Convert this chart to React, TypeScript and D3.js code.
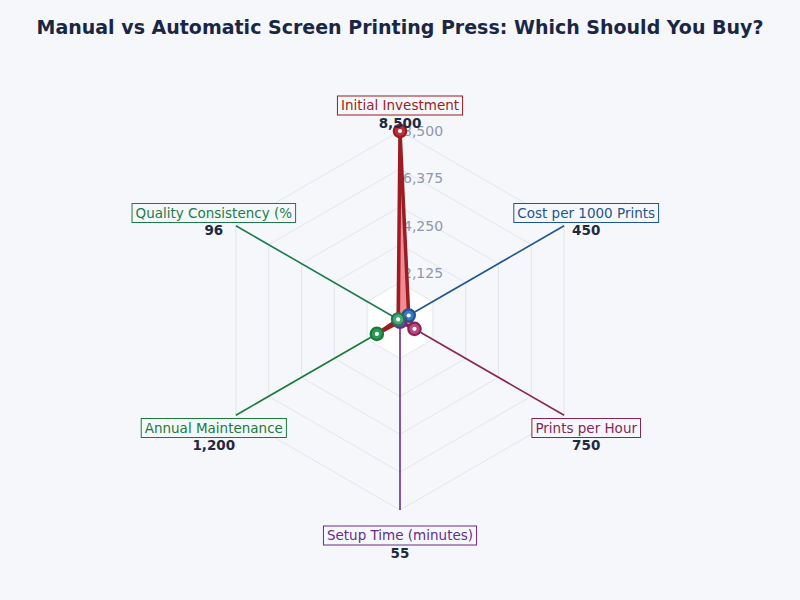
import React from "react";
import * as d3 from "d3";

const categories = [
  "Initial Investment",
  "Cost per 1000 Prints",
  "Prints per Hour",
  "Setup Time (minutes)",
  "Annual Maintenance",
  "Quality Consistency (%",
];
const values = [8500, 450, 750, 55, 1200, 96];
const valueLabels = ["8,500", "450", "750", "55", "1,200", "96"];
const tickValues = [2125, 4250, 6375, 8500];
const gridLevels = [0.2, 0.4, 0.6, 0.8, 1.0];
const axisColors = ["#9b1c22", "#1f5590", "#8a2456", "#6a2b8c", "#1b7a3a", "#1e7a4c"];
const markerFills = ["#c0303a", "#3a78c8", "#b84a80", "#8a3db0", "#2a9a55", "#4aa67a"];

const W = 800;
const H = 600;
const cx = 400;
const cy = 320.5;
const R = 189.5;
const font = "DejaVu Sans, sans-serif";

let ctx: CanvasRenderingContext2D | null = null;
function measure(text: string, size: number): number {
  if (!ctx && typeof document !== "undefined") {
    ctx = document.createElement("canvas").getContext("2d");
  }
  if (!ctx) return text.length * size * 0.55;
  ctx.font = `${size}px "DejaVu Sans"`;
  return ctx.measureText(text).width;
}

export default function App() {
  const maxV = 8500;
  const r = d3.scaleLinear().domain([0, maxV]).range([0, R]);
  const n = categories.length;
  const angle = (i: number) => (i * 2 * Math.PI) / n;
  const pt = (i: number, rad: number): [number, number] => [
    cx + rad * Math.sin(angle(i)),
    cy - rad * Math.cos(angle(i)),
  ];

  const radial = d3
    .lineRadial<number>()
    .angle((_, i) => angle(i))
    .radius((d) => r(d))
    .curve(d3.curveLinearClosed);

  const ringPath = (frac: number) =>
    d3
      .lineRadial<number>()
      .angle((_, i) => angle(i))
      .radius(() => R * frac)
      .curve(d3.curveLinearClosed)(d3.range(n)) || "";

  const fmt = d3.format(",");
  const labelSize = 13.5;

  return (
    <svg width={W} height={H} style={{ position: "absolute", left: 0, top: 0, background: "#f5f7fb" }}>
      <rect x={0} y={0} width={W} height={H} fill="#f5f7fb" />
      <text x={400} y={34} textAnchor="middle" fontFamily={font} fontWeight="bold" fontSize={19} fill="#1a2744">
        Manual vs Automatic Screen Printing Press: Which Should You Buy?
      </text>
      <g transform={`translate(${cx},${cy})`}>
        {gridLevels
          .slice()
          .reverse()
          .map((f, k) => (
            <path key={k} d={ringPath(f)} fill={f === 0.2 ? "#ffffff" : "none"} stroke="#dde1e8" strokeWidth={0.8} />
          ))}
      </g>
      {categories.map((c, i) => {
        const [x2, y2] = pt(i, R);
        return <line key={c} x1={cx} y1={cy} x2={x2} y2={y2} stroke={axisColors[i]} strokeWidth={1.6} />;
      })}
      {tickValues.map((t) => (
        <text
          key={t}
          x={cx + 3}
          y={cy - r(t)}
          dy="0.35em"
          fontFamily={font}
          fontSize={14}
          fill="#8f98aa"
        >
          {fmt(t)}
        </text>
      ))}
      <g transform={`translate(${cx},${cy})`}>
        <path d={radial(values) || ""} fill="#f07f86" fillOpacity={0.9} stroke="#9b1c22" strokeWidth={3.5} strokeLinejoin="round" />
      </g>
      {values.map((v, i) => {
        const [x, y] = pt(i, r(v));
        return (
          <g key={i}>
            <circle cx={x} cy={y} r={6.2} fill={markerFills[i]} stroke={axisColors[i]} strokeWidth={2.2} />
            <circle cx={x} cy={y} r={2.1} fill="#ffffff" />
          </g>
        );
      })}
      {categories.map((c, i) => {
        const [x, y] = pt(i, R + 25.5);
        const w = measure(c, labelSize) + 7;
        return (
          <g key={c}>
            <rect x={x - w / 2} y={y - 9.5} width={w} height={19} fill="#f5f7fb" fillOpacity={0.9} stroke={axisColors[i]} strokeWidth={1} />
            <text x={x} y={y} dy="0.35em" textAnchor="middle" fontFamily={font} fontSize={labelSize} fill={axisColors[i]}>
              {c}
            </text>
            <text x={x} y={y + 17.5} dy="0.35em" textAnchor="middle" fontFamily={font} fontSize={13.5} fontWeight="bold" fill="#1e2a40">
              {valueLabels[i]}
            </text>
          </g>
        );
      })}
    </svg>
  );
}
